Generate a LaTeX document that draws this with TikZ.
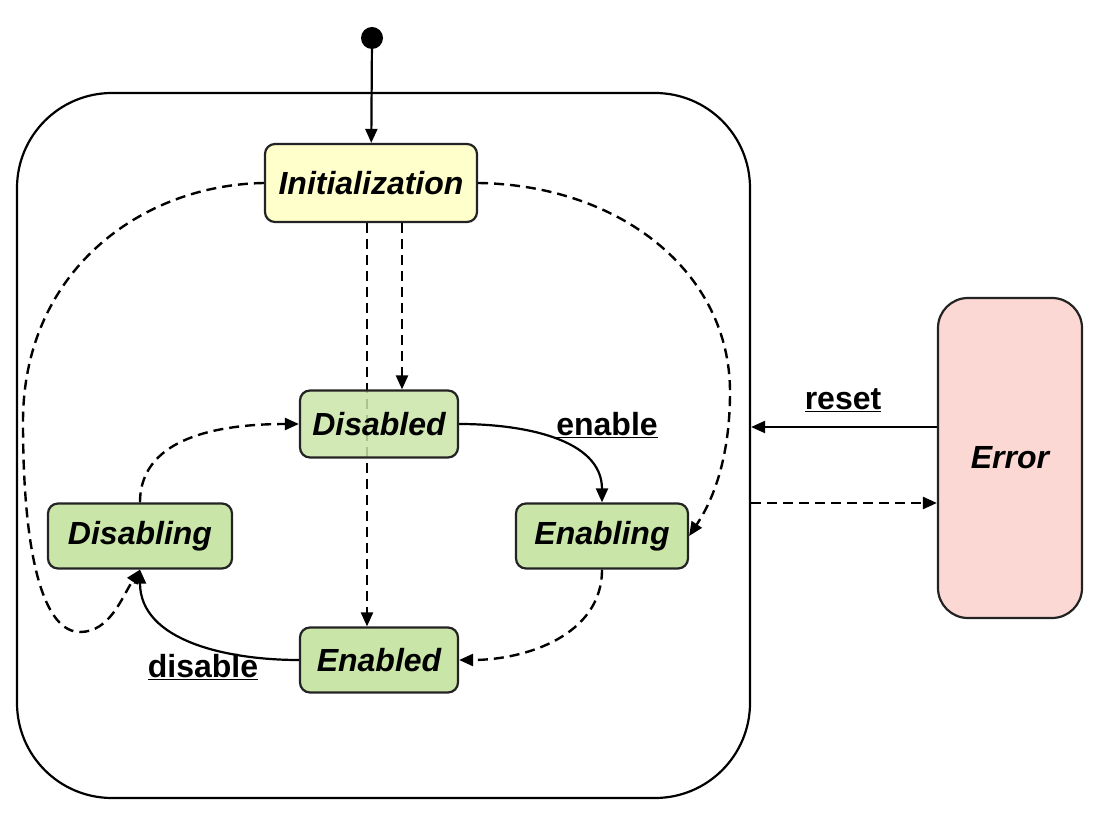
\documentclass[tikz,border=0pt]{standalone}
\usepackage{fontspec}
\setmainfont{Liberation Sans}
\usetikzlibrary{arrows.meta, backgrounds}
\definecolor{InitYellow}{RGB}{255,255,204}
\definecolor{StateGreen}{RGB}{202,229,168}
\definecolor{ErrPink}{RGB}{252,216,212}
\definecolor{EdgeGray}{RGB}{35,35,35}

\begin{document}
\begin{tikzpicture}[
  x=1pt, y=1pt,
  every node/.style={font=\fontsize{32}{38}\selectfont},
  statebox/.style={draw=EdgeGray, line width=2.2pt, rounded corners=10pt, fill=StateGreen,
                   align=center, inner sep=0pt,
                   font=\fontsize{32}{38}\selectfont\bfseries\itshape},
  lbl/.style={font=\fontsize{32}{38}\selectfont\bfseries},
  arr/.style={-{Triangle[length=14pt,width=12pt]}, line width=2.2pt},
  darr/.style={arr, dash pattern=on 10pt off 6pt, line width=2.4pt}
]
  \useasboundingbox (0,0) rectangle (1102,812);

  %% Enclosing state
  \node[draw, line width=2.2pt, rounded corners=95pt, minimum width=733pt,
        minimum height=705pt, inner sep=0pt] (main) at (383.5,366.5) {};
  \node[circle, fill=black, inner sep=0pt, minimum size=22pt] (start) at (372,774) {};

  %% States
  \node[statebox, fill=InitYellow, minimum width=212pt, minimum height=78pt] (init) at (371,629) {Initialization};
  \node[statebox, fill opacity=0.85, text opacity=1, minimum width=158pt, minimum height=67pt] (disabled) at (379,388) {Disabled};
  \node[statebox, minimum width=184pt, minimum height=65pt] (disabling) at (140,276) {Disabling};
  \node[statebox, minimum width=172pt, minimum height=65pt] (enabling)  at (602,276) {Enabling};
  \node[statebox, minimum width=158pt, minimum height=65pt] (enabled)   at (379,152) {Enabled};
  \node[statebox, fill=ErrPink, rounded corners=30pt, minimum width=144pt, minimum height=320pt] (error) at (1010,354) {Error};

  %% Labels
  \node[lbl] (enablelbl)  at (607,387) {\underline{enable}};
  \node[lbl] (resetlbl)   at (843,412) {\underline{reset}};
  \node[lbl] (disablelbl) at (203,145) {\underline{disable}};

  %% Initial transition
  \draw[arr] (start) -- (init);

  %% From Initialization
  \begin{pgfonlayer}{background}
    \draw[darr] ([xshift=-4pt]init.south) -- ([xshift=-4pt]init.south |- enabled.north);
  \end{pgfonlayer}
  \draw[darr] ([xshift=31pt]init.south) -- ([xshift=31pt]init.south |- disabled.north);
  \draw[darr] (init.west) .. controls (140,627) and (23,540) .. (23,390)
              .. controls (23,250) and (45,180) .. (80,180)
              .. controls (110,180) and (122,215) .. (disabling.south);
  \draw[darr] (init.east) .. controls (620,627) and (730,540) .. (730,420)
              .. controls (730,340) and (705,300) .. (enabling.east);

  %% Inner cycle
  \draw[arr]  (disabled.east)   to[out=0,   in=90]  (enabling.north);
  \draw[darr] (enabling.south)  to[out=-90, in=0]   (enabled.east);
  \draw[arr]  (enabled.west)    to[out=180, in=-90] (disabling.south);
  \draw[darr] (disabling.north) to[out=90,  in=180] (disabled.west);

  %% Error
  \draw[arr]  ([yshift=31pt]error.west) -- ([yshift=31pt]error.west -| main.east);
  \draw[darr] ([yshift=-45pt]error.west -| main.east) -- ([yshift=-45pt]error.west);
\end{tikzpicture}
\end{document}
